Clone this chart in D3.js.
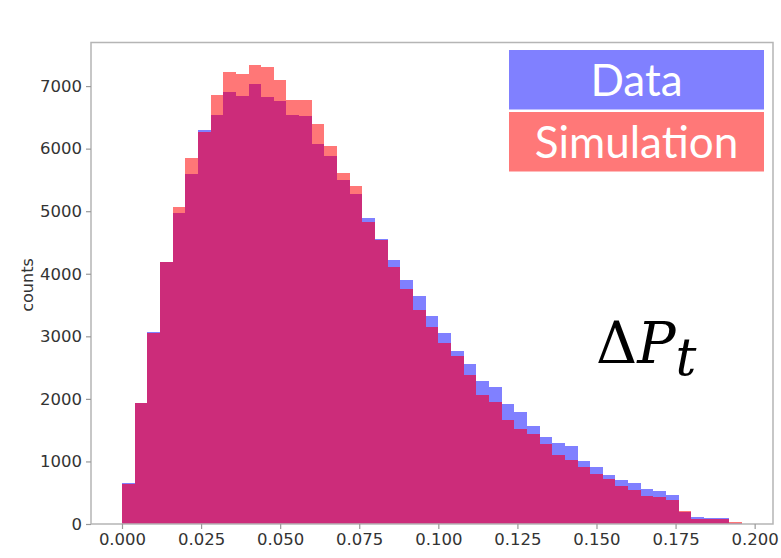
<!DOCTYPE html>
<html><head><meta charset="utf-8">
<script src="https://cdn.jsdelivr.net/npm/d3@7"></script>
<style>body{margin:0;background:#fff}svg{display:block}</style>
</head><body>
<svg id="c" width="781" height="558"></svg>
<script>
const binWidth = 0.004;
const binStarts = d3.range(49).map(i => +(i * binWidth).toFixed(3));
const dataCounts = [650,1940,3070,4180,4970,5600,6290,6540,6900,6840,7040,6820,6760,6530,6520,6070,5880,5500,5280,4890,4550,4220,3900,3650,3320,3060,2770,2560,2290,2190,1920,1790,1570,1390,1300,1250,1000,905,780,700,650,565,520,460,195,105,100,95,15];
const simCounts = [640,1935,3050,4180,5060,5850,6270,6860,7220,7200,7330,7310,7100,6780,6770,6400,6050,5610,5400,4830,4540,4110,3750,3420,3150,2890,2690,2380,2060,1950,1660,1520,1440,1280,1100,1030,905,800,725,605,545,450,435,385,200,85,80,80,32];
const xTicks = [0,0.025,0.05,0.075,0.1,0.125,0.15,0.175,0.2];
const yTicks = [0,1000,2000,3000,4000,5000,6000,7000];
const legendLabels = ["Data","Simulation"];

const colBlue = "#8080ff", colRed = "#ff7777", colOver = "#cc2c7a";
const svg = d3.select("#c");
const L = 91, R = 773, T = 42.5, B = 524;
const xMax = binStarts[binStarts.length-1] + binWidth;
const pad = xMax * 0.05;
const x = d3.scaleLinear().domain([-pad, xMax + pad]).range([L, R]);
const y = d3.scaleLinear().domain([0, d3.max(simCounts.concat(dataCounts)) * 1.05]).range([B, T]);

const bins = binStarts.map((s, i) => ({s, d: dataCounts[i], m: simCounts[i]}));
const g = svg.append("g").attr("shape-rendering", "crispEdges");
function bars(cls, color, val) {
  g.selectAll("rect." + cls).data(bins).enter().append("rect")
    .attr("class", cls)
    .attr("x", b => Math.round(x(b.s)))
    .attr("width", b => Math.round(x(b.s + binWidth)) - Math.round(x(b.s)))
    .attr("y", b => y(val(b)))
    .attr("height", b => y(0) - y(val(b)))
    .attr("fill", color);
}
bars("blue", colBlue, b => b.d);
bars("red", colRed, b => b.m);
bars("over", colOver, b => Math.min(b.d, b.m));

// frame
svg.append("rect").attr("x", L).attr("y", T).attr("width", R - L).attr("height", B - T)
  .attr("fill", "none").attr("stroke", "#b5b5b5").attr("stroke-width", 1.5);

const xAxis = svg.append("g").attr("transform", `translate(0,${B})`)
  .call(d3.axisBottom(x).tickValues(xTicks).tickFormat(d3.format(".3f")).tickSize(5).tickPadding(4));
const yAxis = svg.append("g").attr("transform", `translate(${L},0)`)
  .call(d3.axisLeft(y).tickValues(yTicks).tickFormat(d3.format("d")).tickSize(5).tickPadding(4));
[xAxis, yAxis].forEach(a => {
  a.select(".domain").remove();
  a.selectAll(".tick line").attr("stroke", "#999").attr("stroke-width", 1.2);
  a.selectAll("text").attr("fill", "#333").style("font-family", "DejaVu Sans").style("font-size", "16.5px");
});

svg.append("text").attr("transform", "translate(33,285) rotate(-90)")
  .attr("text-anchor", "middle").attr("fill", "#333")
  .style("font-family", "DejaVu Sans").style("font-size", "16px").text("counts");

// legend
const lg = svg.append("g");
const legCols = [colBlue, "#ff7878"];
legendLabels.forEach((t, i) => {
  lg.append("rect").attr("x", 509).attr("y", 50 + i * 62).attr("width", 255).attr("height", 59.5).attr("fill", legCols[i]);
  lg.append("text").attr("x", 636.5).attr("y", 96 + i * 62).attr("text-anchor", "middle")
    .attr("fill", "#fff").style("font-family", "Lato").style("font-size", "44px").text(t);
});

// math label
const mt = svg.append("text").attr("x", 596).attr("y", 363)
  .style("font-family", "DejaVu Serif").style("font-size", "57px").attr("fill", "#000");
mt.append("tspan").text("Δ");
mt.append("tspan").style("font-style", "italic").text("P");
mt.append("tspan").style("font-style", "italic").style("font-size", "52px").attr("dy", 12).text("t");
</script>
</body></html>
